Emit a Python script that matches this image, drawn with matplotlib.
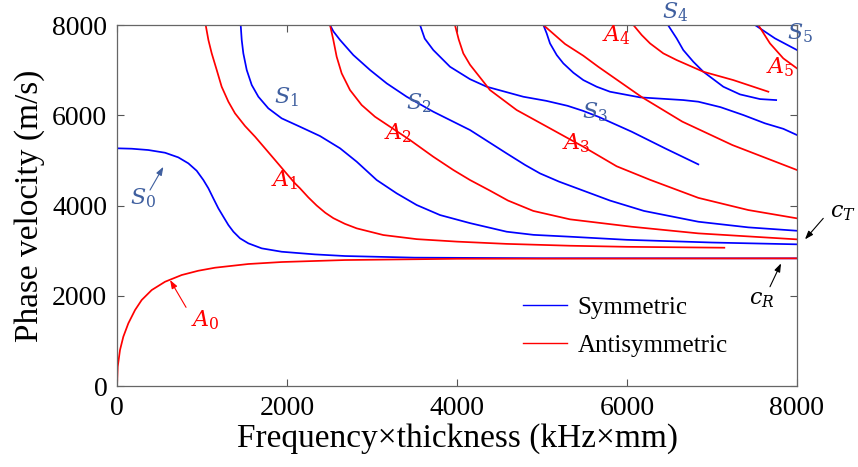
import matplotlib
matplotlib.use("Agg")
import matplotlib.pyplot as plt
from matplotlib.lines import Line2D

plt.rcParams.update({
    "font.family": "Liberation Serif",
    "mathtext.fontset": "custom",
    "mathtext.it": "DejaVu Serif:italic",
    "mathtext.rm": "DejaVu Serif",
})

BLUE = "#0000ff"
RED = "#ff0000"
LBL_BLUE = "#3f5f9f"

# ── Symmetric modes (fd in kHz*mm, phase velocity in m/s) ────────────────
s0_x = [0, 173, 368, 565, 721, 839, 937, 1016, 1075, 1133, 1192, 1251, 1310, 1369, 1447,
        1545, 1702, 1937, 2329, 2682, 3500, 5000, 8000]
s0_y = [5268, 5259, 5230, 5170, 5067, 4935, 4771, 4565, 4381, 4159, 3938, 3752, 3568, 3420, 3273,
        3162, 3051, 2976, 2917, 2881, 2845, 2832, 2829]

s1_x = [1455, 1467, 1486, 1526, 1585, 1663, 1780, 1937, 2153, 2388, 2624, 2820, 3055, 3290,
        3526, 3800, 4153, 4584, 4900, 5329, 6000, 7000, 8000]
s1_y = [8000, 7668, 7372, 7003, 6670, 6411, 6154, 5932, 5746, 5540, 5268, 4971, 4565, 4270,
        4011, 3789, 3610, 3420, 3350, 3309, 3240, 3180, 3140]

s2_x = [2506, 2545, 2624, 2780, 2977, 3173, 3408, 3721, 4153, 4584, 4800, 4976, 5200, 5500,
        5800, 6200, 6839, 7427, 8000]
s2_y = [8000, 7860, 7668, 7335, 7003, 6707, 6411, 6079, 5673, 5155, 4900, 4712, 4530, 4320,
        4110, 3880, 3641, 3516, 3441]

s3_x = [3565, 3620, 3721, 3918, 4153, 4349, 4780, 5050, 5300, 5480, 5662, 6055, 6447, 6839]
s3_y = [8000, 7700, 7446, 7075, 6800, 6633, 6411, 6320, 6210, 6100, 5968, 5636, 5268, 4912]

s4_x = [5016, 5055, 5094, 5173, 5251, 5369, 5486, 5643, 5800, 6153, 6662, 6839, 7100, 7369,
        7624, 7839, 8000]
s4_y = [8000, 7815, 7593, 7335, 7150, 6943, 6780, 6633, 6522, 6397, 6337, 6301, 6180, 6005,
        5821, 5700, 5562]

s5_x = [6482, 6584, 6662, 6780, 6898, 7133, 7329, 7565, 7755]
s5_y = [8000, 7704, 7446, 7187, 6965, 6633, 6463, 6359, 6337]

s6_x = [7506, 7741, 8000]
s6_y = [8000, 7704, 7446]

# ── Antisymmetric modes ──────────────────────────────────────────────────
a0_x = [0, 8, 35, 74, 133, 212, 290, 408, 565, 761, 957, 1153, 1545, 1937, 2682, 4000, 8000]
a0_y = [0, 428, 798, 1093, 1389, 1684, 1906, 2127, 2311, 2460, 2555, 2622, 2704, 2748, 2792,
        2820, 2829]

a1_x = [1043, 1075, 1114, 1173, 1231, 1310, 1388, 1506, 1624, 1741, 1859, 1976, 2094, 2153,
        2251, 2349, 2450, 2545, 2680, 2820, 3133, 3526, 4000, 4584, 5329, 6000, 7145]
a1_y = [8000, 7668, 7372, 7003, 6633, 6301, 6043, 5762, 5525, 5268, 5008, 4749, 4491, 4381,
        4180, 4000, 3840, 3720, 3595, 3494, 3346, 3255, 3200, 3150, 3109, 3085, 3065]

a2_x = [2506, 2545, 2584, 2643, 2741, 2878, 3035, 3212, 3447, 3721, 3957, 4153, 4388, 4600,
        4898, 5329, 6055, 6839, 8000]
a2_y = [8000, 7668, 7298, 6929, 6559, 6227, 5968, 5746, 5451, 5081, 4787, 4565, 4330, 4110,
        3880, 3694, 3530, 3383, 3250]

a3_x = [3976, 4020, 4074, 4153, 4388, 4702, 5094, 5486, 5878, 6271, 6839, 7427, 8000]
a3_y = [8000, 7680, 7372, 7120, 6559, 6116, 5710, 5303, 4870, 4570, 4170, 3900, 3716]

a4_x = [5016, 5271, 5486, 5662, 6173, 6650, 7240, 8000]
a4_y = [8000, 7580, 7320, 7075, 6404, 5860, 5340, 4787]

a5_x = [6075, 6173, 6271, 6427, 6584, 6898, 7251, 7663]
a5_y = [8000, 7778, 7593, 7372, 7224, 6965, 6780, 6522]

a6_x = [7545, 7682, 7839, 8000]
a6_y = [8000, 7593, 7261, 7039]

sym_modes = [(s0_x, s0_y), (s1_x, s1_y), (s2_x, s2_y), (s3_x, s3_y),
             (s4_x, s4_y), (s5_x, s5_y), (s6_x, s6_y)]
anti_modes = [(a0_x, a0_y), (a1_x, a1_y), (a2_x, a2_y), (a3_x, a3_y),
              (a4_x, a4_y), (a5_x, a5_y), (a6_x, a6_y)]

# mode labels: text, x, y, colour
mode_labels = [
    ("$S_0$", 310, 4160, LBL_BLUE), ("$S_1$", 1996, 6390, LBL_BLUE),
    ("$S_2$", 3545, 6265, LBL_BLUE), ("$S_3$", 5624, 6079, LBL_BLUE),
    ("$S_4$", 6565, 8295, LBL_BLUE), ("$S_5$", 8030, 7815, LBL_BLUE),
    ("$A_0$", 1035, 1463, RED), ("$A_1$", 1976, 4565, RED),
    ("$A_2$", 3310, 5600, RED), ("$A_3$", 5408, 5378, RED),
    ("$A_4$", 5878, 7778, RED), ("$A_5$", 7800, 7076, RED),
    ("$c_T$", 8545, 3827, "black"), ("$c_R$", 7584, 1906, "black"),
]

fig = plt.figure(figsize=(8.58, 4.67), dpi=100)
ax = fig.add_axes([0.1364, 0.1734, 0.7925, 0.773])

for xs, ys in sym_modes:
    ax.plot(xs, ys, color=BLUE, lw=1.25)
for xs, ys in anti_modes:
    ax.plot(xs, ys, color=RED, lw=1.25)

for txt, lx, ly, col in mode_labels:
    ax.text(lx, ly, txt, color=col, fontsize=16, ha="center", va="center", clip_on=False)

# arrows pointing at curves
arrows = [
    ((388, 4343), (545, 4858), LBL_BLUE),
    ((812, 1744), (624, 2349), RED),
    ((8309, 3716), (8094, 3250), "black"),
    ((7682, 2200), (7812, 2718), "black"),
]
for tail, head, col in arrows:
    ax.annotate("", xy=head, xytext=tail, annotation_clip=False,
                arrowprops=dict(arrowstyle="-|>,head_length=0.5,head_width=0.18",
                                color=col, lw=0.8, shrinkA=0, shrinkB=0))

ax.set_xlim(0, 8000)
ax.set_ylim(0, 8000)
ax.set_xticks([0, 2000, 4000, 6000, 8000])
ax.set_yticks([0, 2000, 4000, 6000, 8000])
ax.tick_params(direction="in", length=5, width=0.8, color="#555555",
               top=True, right=True, labelsize=20, pad=7)
for sp in ax.spines.values():
    sp.set_color("#666666")
    sp.set_linewidth(0.9)

ax.set_xlabel("Frequency×thickness (kHz×mm)", fontsize=24, labelpad=2)
ax.set_ylabel("Phase velocity (m/s)", fontsize=24, labelpad=5)

handles = [Line2D([], [], color=BLUE, lw=1.0, label="Symmetric"),
           Line2D([], [], color=RED, lw=1.0, label="Antisymmetric")]
ax.legend(handles=handles, loc="upper left", bbox_to_anchor=(0.582, 0.275),
          frameon=False, fontsize=18, handlelength=1.75, handletextpad=0.45,
          labelspacing=0.6, borderaxespad=0)

plt.savefig("out.png", dpi=100)
